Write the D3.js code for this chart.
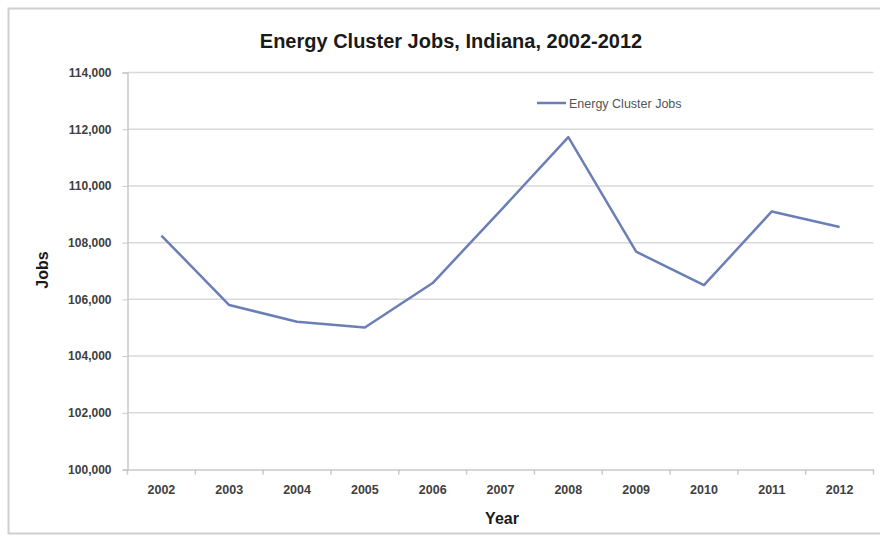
<!DOCTYPE html>
<html><head><meta charset="utf-8">
<script src="https://cdn.jsdelivr.net/npm/d3@7"></script>
<style>body{margin:0;background:#fff;}svg{display:block;}</style>
</head><body><svg id="c" width="880" height="537"></svg>
<script>
const years = ["2002","2003","2004","2005","2006","2007","2008","2009","2010","2011","2012"];
const jobs = [108250,105800,105210,105010,106575,109130,111720,107680,106500,109100,108550];
const yTicks = [100000,102000,104000,106000,108000,110000,112000,114000];
const seriesName = "Energy Cluster Jobs";
const title = "Energy Cluster Jobs, Indiana, 2002-2012";

const svg = d3.select("#c");
const font = "'Liberation Sans', Arial, sans-serif";
// chart frame
svg.append("rect").attr("x",8.5).attr("y",8.5).attr("width",880).attr("height",525)
  .attr("fill","#fff").attr("stroke","#cfcfcf").attr("stroke-width",2);

const m = {l:127.5, r:873.5, t:72.5, b:469.5};
const x = d3.scaleBand().domain(years).range([m.l, m.r]);
const y = d3.scaleLinear().domain([100000,114000]).range([m.b, m.t]);

// gridlines
svg.append("g").selectAll("line").data(yTicks.slice(1)).join("line")
  .attr("x1",m.l).attr("x2",m.r).attr("y1",d=>y(d)).attr("y2",d=>y(d))
  .attr("stroke","#d9d9d9").attr("stroke-width",1.5);

// y axis
const ya = svg.append("g").attr("transform",`translate(${m.l},0)`)
  .call(d3.axisLeft(y).tickValues(yTicks).tickFormat(d3.format(",")).tickSize(5).tickPadding(11));
ya.select(".domain").attr("stroke","#c8c8c8").attr("stroke-width",1.5);
ya.selectAll(".tick line").attr("stroke","#c8c8c8");
ya.selectAll("text").attr("font-family",font).attr("font-size",12).attr("font-weight","bold").attr("fill","#404040");

// x axis
const xa = svg.append("g").attr("transform",`translate(0,${m.b})`)
  .call(d3.axisBottom(x).tickSize(0).tickPadding(16));
xa.select(".domain").attr("stroke","#c8c8c8").attr("stroke-width",1.5);
xa.selectAll("text").attr("font-family",font).attr("font-size",12.5).attr("font-weight","bold").attr("fill","#404040");
svg.append("g").selectAll("line").data(years.concat(["end"])).join("line")
  .attr("x1",(d,i)=>m.l + i*x.step()).attr("x2",(d,i)=>m.l + i*x.step())
  .attr("y1",m.b).attr("y2",m.b+5).attr("stroke","#c8c8c8").attr("stroke-width",1.5);

// line
const line = d3.line().x((d,i)=>x(years[i])+x.bandwidth()/2).y(d=>y(d));
svg.append("path").datum(jobs).attr("d",line).attr("fill","none")
  .attr("stroke","#6b7fb6").attr("stroke-width",2.5).attr("stroke-linejoin","round");

// title
svg.append("text").attr("x",451).attr("y",48).attr("text-anchor","middle")
  .attr("font-family",font).attr("font-size",20).attr("font-weight","bold").attr("fill","#1a1a1a").text(title);
// axis titles
svg.append("text").attr("transform","translate(48,270) rotate(-90)").attr("text-anchor","middle")
  .attr("font-family",font).attr("font-size",16).attr("font-weight","bold").attr("fill","#1a1a1a").text("Jobs");
svg.append("text").attr("x",502).attr("y",524).attr("text-anchor","middle")
  .attr("font-family",font).attr("font-size",16).attr("font-weight","bold").attr("fill","#1a1a1a").text("Year");

// legend
svg.append("line").attr("x1",537).attr("x2",566).attr("y1",103).attr("y2",103)
  .attr("stroke","#6b7fb6").attr("stroke-width",2.5);
svg.append("text").attr("x",569).attr("y",107.5).attr("font-family",font).attr("font-size",12.5)
  .attr("fill","#555").text(seriesName);
</script></body></html>
